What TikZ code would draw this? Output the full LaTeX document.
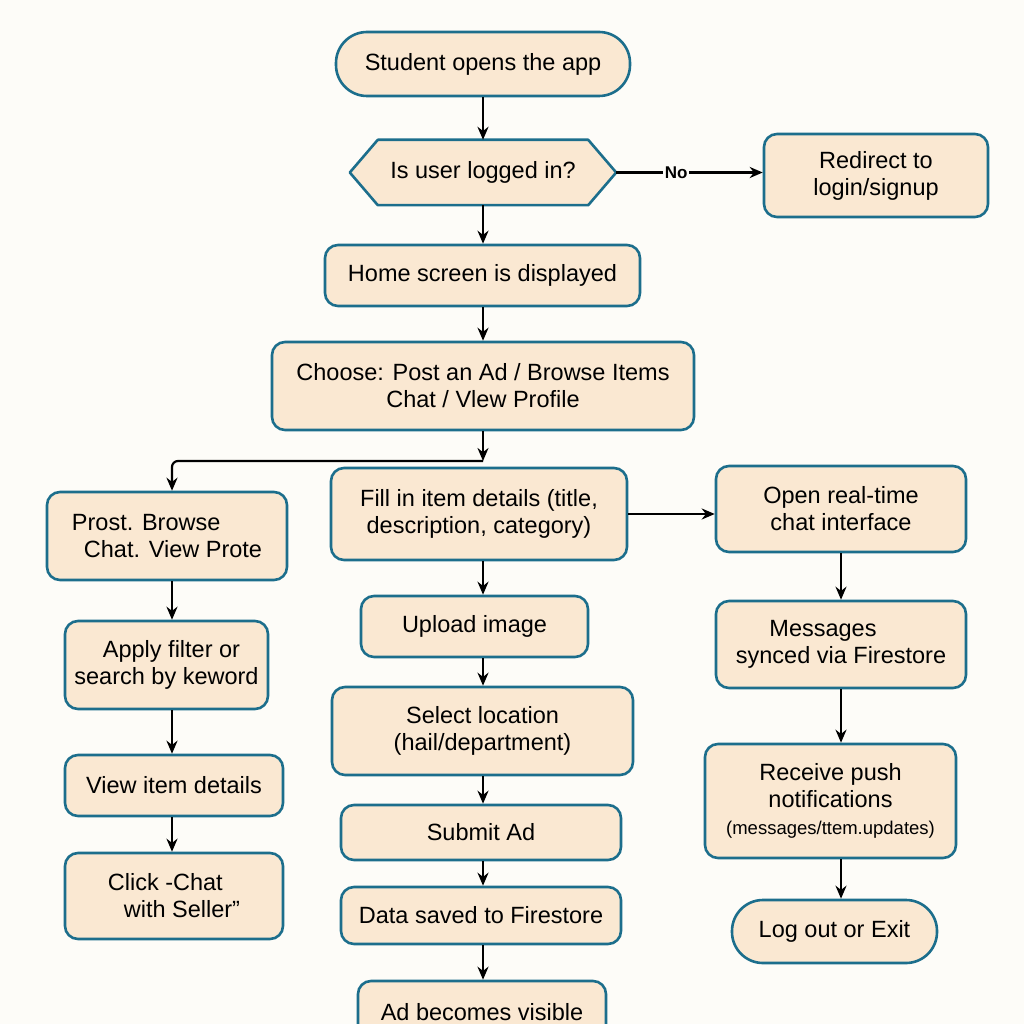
\documentclass[tikz,border=0pt]{standalone}
\usepackage{fontspec}
\setmainfont{Liberation Sans}
\usetikzlibrary{arrows.meta,backgrounds}
\definecolor{bgc}{HTML}{FDFCF8}
\definecolor{boxfill}{HTML}{FAE8D2}
\definecolor{boxline}{HTML}{1C6E8C}
\tikzset{
  box/.style={draw=boxline, fill=boxfill, line width=2.6pt, rounded corners=13pt,
    align=center, inner sep=0pt, font=\fontsize{23.5}{27}\selectfont},
  pill/.style={box, rounded corners=31pt},
  hexnode/.style={inner sep=0pt, align=center, font=\fontsize{23.5}{27}\selectfont},
  hexline/.style={draw=boxline, fill=boxfill, line width=2.6pt, line join=round},
  arr/.style={-{Stealth[length=13pt,width=11pt]}, line width=2.2pt, black},
}
\begin{document}
\begin{tikzpicture}[x=1pt,y=-1pt]
\begin{scope}[on background layer]
\fill[bgc] (0,0) rectangle (1024,1024);
\end{scope}
\useasboundingbox (0,0) rectangle (1024,1024);

% column coordinates
\coordinate (colL) at (172,0);
\coordinate (colM) at (483,0);
\coordinate (colR) at (841,0);
\coordinate (split) at (483,461);

% nodes
\node[pill, minimum width=294pt, minimum height=64pt] (start) at (483,64) {Student opens the app};
\node[hexnode, minimum width=266pt, minimum height=65pt] (dec) at (483,172.5) {Is user logged in?};
\begin{scope}[on background layer]
\path[hexline] (dec.west) -- ([xshift=28pt]dec.north west) -- ([xshift=-28pt]dec.north east)
  -- (dec.east) -- ([xshift=-28pt]dec.south east) -- ([xshift=28pt]dec.south west) -- cycle;
\end{scope}
\node[box, minimum width=224pt, minimum height=83pt] (redir) at (876,175.5) {Redirect to\\login/signup};
\node[box, minimum width=315pt, minimum height=61pt] (home) at (482.5,275.5) {Home screen is displayed};
\node[box, minimum width=422pt, minimum height=88pt] (choose) at (483,386) {Choose: Post an Ad / Browse Items\\Chat / Vlew Profile};

\node[box, minimum width=240pt, minimum height=88pt, align=left] (browse) at (167,536) {Prost. Browse\\\hspace{12pt}Chat. View Prote};
\node[box, minimum width=203pt, minimum height=88pt] (filter) at (166.5,665) {\hspace{10pt}Apply filter or\\search by keword};
\node[box, minimum width=218pt, minimum height=61pt] (view) at (174,785.5) {View item details};
\node[box, minimum width=218pt, minimum height=86pt, align=left] (click) at (174,896) {Click -Chat\\\hspace{16pt}with Seller”};

\node[box, minimum width=296pt, minimum height=92pt] (fill) at (479,514) {Fill in item details (title,\\description, category)};
\node[box, minimum width=227pt, minimum height=61pt] (upload) at (474.5,626.5) {Upload image};
\node[box, minimum width=301pt, minimum height=88pt] (loc) at (482.5,731) {Select location\\(hail/department)};
\node[box, minimum width=280pt, minimum height=55pt] (submit) at (481,832.5) {Submit Ad};
\node[box, minimum width=280pt, minimum height=57pt] (saved) at (481,915.5) {Data saved to Firestore};
\node[box, minimum width=248pt, minimum height=62pt] (visible) at (482,1012) {Ad becomes visible};

\node[box, minimum width=250pt, minimum height=86pt] (chat) at (841,509) {Open real-time\\chat interface};
\node[box, minimum width=250pt, minimum height=87pt] (msgs) at (841,644.5) {\hspace{-36pt}Messages\\synced via Firestore};
\node[box, minimum width=251pt, minimum height=114pt] (push) at (830.5,801) {Receive push\\notifications\\{\fontsize{18.5}{27}\selectfont(messages/ttem.updates)}};
\node[pill, minimum width=205pt, minimum height=63pt] (logout) at (834.5,931.5) {Log out or Exit};

% connectors
\draw[arr] (start.south -| colM) -- (dec.north -| colM);
\draw[arr] (dec.east) -- node[pos=0.41, fill=bgc, inner sep=1.5pt, font=\fontsize{17}{20}\selectfont\bfseries] {No} (redir.west |- dec.east);
\draw[arr] (dec.south -| colM) -- (home.north -| colM);
\draw[arr] (home.south -| colM) -- (choose.north -| colM);
\draw[arr] (choose.south -| colM) -- (split);
\draw[arr, rounded corners=6pt] (split) -- (split -| colL) -- (browse.north -| colL);
\draw[arr] (browse.south -| colL) -- (filter.north -| colL);
\draw[arr] (filter.south -| colL) -- (view.north -| colL);
\draw[arr] (view.south -| colL) -- (click.north -| colL);

\draw[arr] (fill.east) -- (chat.west |- fill.east);
\draw[arr] (fill.south -| colM) -- (upload.north -| colM);
\draw[arr] (upload.south -| colM) -- (loc.north -| colM);
\draw[arr] (loc.south -| colM) -- (submit.north -| colM);
\draw[arr] (submit.south -| colM) -- (saved.north -| colM);
\draw[arr] (saved.south -| colM) -- (visible.north -| colM);

\draw[arr] (chat.south -| colR) -- (msgs.north -| colR);
\draw[arr] (msgs.south -| colR) -- (push.north -| colR);
\draw[arr] (push.south -| colR) -- (logout.north -| colR);
\end{tikzpicture}
\end{document}
